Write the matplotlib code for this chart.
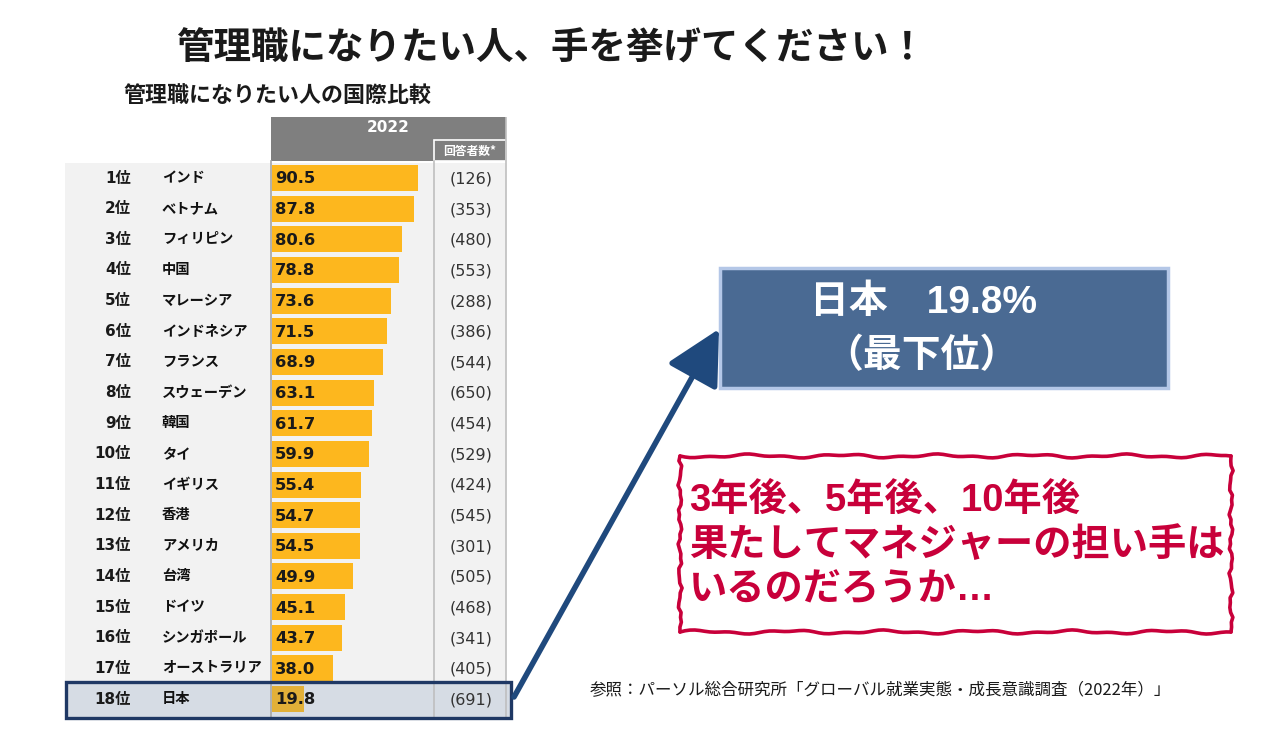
import matplotlib
matplotlib.use('Agg')
import matplotlib.pyplot as plt
from matplotlib.patches import Rectangle, FancyArrowPatch
import numpy as np

# ---------------- data ----------------
ranks = ["1位", "2位", "3位", "4位", "5位", "6位", "7位", "8位", "9位", "10位",
         "11位", "12位", "13位", "14位", "15位", "16位", "17位", "18位"]
countries = ["インド", "ベトナム", "フィリピン", "中国", "マレーシア", "インドネシア",
             "フランス", "スウェーデン", "韓国", "タイ", "イギリス", "香港",
             "アメリカ", "台湾", "ドイツ", "シンガポール", "オーストラリア", "日本"]
values = [90.5, 87.8, 80.6, 78.8, 73.6, 71.5, 68.9, 63.1, 61.7, 59.9,
          55.4, 54.7, 54.5, 49.9, 45.1, 43.7, 38.0, 19.8]
respondents = [126, 353, 480, 553, 288, 386, 544, 650, 454, 529,
               424, 545, 301, 505, 468, 341, 405, 691]
year_label = "2022"
count_header = "回答者数*"
title = "管理職になりたい人、手を挙げてください！"
subtitle = "管理職になりたい人の国際比較"
callout_lines = ["日本　19.8%", "（最下位）"]
comment_lines = ["3年後、5年後、10年後", "果たしてマネジャーの担い手は", "いるのだろうか…"]
source = "参照：パーソル総合研究所「グローバル就業実態・成長意識調査（2022年）」"

JP = ['Noto Sans CJK JP', 'DejaVu Sans']
LAT_JP = ['DejaVu Sans', 'Noto Sans CJK JP']
ARIAL_JP = ['Liberation Sans', 'Noto Sans CJK JP']
plt.rcParams['font.family'] = JP

W, H = 1263, 729
fig = plt.figure(figsize=(W / 100, H / 100), dpi=100)
fig.patch.set_facecolor('white')

# ---------------- table axes ----------------
L, R, T, B = 65, 512, 117, 720
ax = fig.add_axes([L / W, 1 - B / H, (R - L) / W, (B - T) / H])
s = 146 / 90.5          # px per unit
x0 = 272
rowh = 30.65
r0 = 178
X = lambda px: (px - x0) / s
Y = lambda py: (py - r0) / rowh
ax.set_xlim(X(L), X(R))
ax.set_ylim(Y(B), Y(T))
ax.axis('off')

n = len(values)
rows = np.arange(n)

# background
ax.add_patch(Rectangle((X(65), Y(163)), X(506) - X(65), Y(718) - Y(163),
                       facecolor='#f2f2f2', edgecolor='none', zorder=0))
# header
ax.add_patch(Rectangle((X(271), Y(117)), X(506) - X(271), Y(161) - Y(117),
                       facecolor='#7f7f7f', edgecolor='none', zorder=1))
ax.add_patch(Rectangle((X(434), Y(140)), X(506) - X(434), Y(161) - Y(140),
                       facecolor='#7f7f7f', edgecolor='white', linewidth=1.2, zorder=2))
ax.text(X(388), Y(127), year_label, ha='center', va='center', color='white',
        fontsize=11, fontweight='bold', family=['DejaVu Sans'], zorder=3)
ax.text(X(470), Y(151), count_header, ha='center', va='center', color='white',
        fontsize=8.5, fontweight='bold', zorder=3)

# Japan highlight fill
ax.add_patch(Rectangle((X(65), Y(682)), X(512) - X(65), Y(718) - Y(682),
                       facecolor='#d6dce4', edgecolor='none', zorder=1))

# vertical lines
ax.plot([X(271), X(271)], [Y(161), Y(718)], color='#a6a6a6', lw=1.2, zorder=2)
ax.plot([X(434), X(434)], [Y(161), Y(718)], color='#bfbfbf', lw=1.2, zorder=2)
ax.plot([X(506), X(506)], [Y(117), Y(718)], color='#bfbfbf', lw=1.2, zorder=2)

# bars
colors = ['#fdb71e'] * (n - 1) + ['#e2b038']
ax.barh(rows, values, height=26 / rowh, left=0, color=colors, zorder=3)

for i in rows:
    ax.text(X(131), i, ranks[i], ha='right', va='center', fontsize=11,
            fontweight='bold', color='#1a1a1a', family=LAT_JP, zorder=4)
    ax.text(X(162), i, countries[i], ha='left', va='center', fontsize=10.3,
            fontweight='bold', color='#111111', zorder=4)
    ax.text(X(275), i + 0.03, f"{values[i]:.1f}", ha='left', va='center', fontsize=11.8,
            fontweight='bold', color='#1a1a1a', family=['DejaVu Sans'], zorder=4)
    ax.text(X(471), i + 0.03, f"({respondents[i]})", ha='center', va='center', fontsize=11.5,
            color='#333333', family=['DejaVu Sans'], zorder=4)

# Japan border
ax.add_patch(Rectangle((X(66), Y(682)), X(511) - X(66), Y(718) - Y(682),
                       facecolor='none', edgecolor='#1f3864', linewidth=2.4, zorder=5,
                       clip_on=False))

# ---------------- decoration overlay ----------------
d = fig.add_axes([0, 0, 1, 1])
d.set_xlim(0, W)
d.set_ylim(H, 0)
d.axis('off')
d.patch.set_alpha(0)

d.text(551, 48, title, ha='center', va='center', fontsize=27, fontweight='bold', color='#1a1a1a')
d.text(277, 96, subtitle, ha='center', va='center', fontsize=15.8, fontweight='bold', color='#1a1a1a')

# arrow
arr = FancyArrowPatch((514, 697), (719, 329), arrowstyle='-|>,head_length=2.4,head_width=1.25',
                      mutation_scale=14, color='#1f497d', linewidth=4, zorder=6,
                      shrinkA=0, shrinkB=0)
d.add_patch(arr)

# blue callout box
d.add_patch(Rectangle((720, 268), 448, 120, facecolor='#4a6a93', edgecolor='#b4c7e7',
                      linewidth=2.5, zorder=5))
d.text(924, 303, callout_lines[0], ha='center', va='center', fontsize=28, fontweight='bold',
       color='white', family=ARIAL_JP, zorder=7)
d.text(921, 356, callout_lines[1], ha='center', va='center', fontsize=28, fontweight='bold',
       color='white', zorder=7)

# wobbly red box
red = '#c8003a'
def wobbly(x1, y1, x2, y2, seed):
    nseg = int(np.hypot(x2 - x1, y2 - y1) / 5) + 2
    t = np.linspace(0, 1, nseg)
    off = 1.3 * np.sin(t * 37 + seed) + 0.8 * np.sin(t * 91 + 2 * seed)
    off[0] = off[-1] = 0
    dx, dy = x2 - x1, y2 - y1
    ln = np.hypot(dx, dy)
    nx, ny = -dy / ln, dx / ln
    return x1 + dx * t + nx * off, y1 + dy * t + ny * off

corners = [(680, 456), (1231, 456), (1231, 632), (680, 632), (680, 456)]
for k in range(4):
    xs, ys = wobbly(*corners[k], *corners[k + 1], seed=k * 1.7)
    d.plot(xs, ys, color=red, lw=2.6, solid_capstyle='round', zorder=5)

for j, line in enumerate(comment_lines):
    d.text(689, 501 + j * 45, line, ha='left', va='center', fontsize=27.5, fontweight='bold',
           color=red, family=ARIAL_JP, zorder=7)

d.text(590, 691, source, ha='left', va='center', fontsize=11.9, color='#1a1a1a')

fig.savefig('out.png', dpi=100)
